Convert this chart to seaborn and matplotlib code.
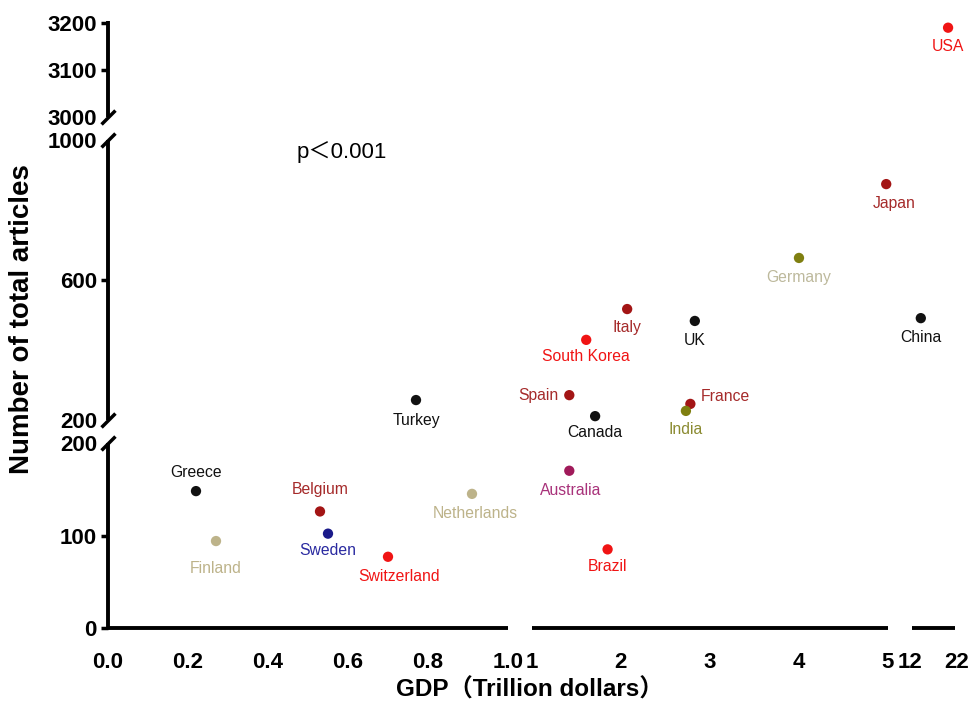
import numpy as np
import pandas as pd
import seaborn as sns
import matplotlib.pyplot as plt
from matplotlib.path import Path

sns.set_style("white")
plt.rcParams["font.family"] = ["Liberation Sans", "Noto Sans CJK SC", "DejaVu Sans"]
plt.rcParams["text.color"] = "black"
plt.rcParams["xtick.color"] = "black"
plt.rcParams["ytick.color"] = "black"
plt.rcParams["xtick.labelcolor"] = "black"
plt.rcParams["ytick.labelcolor"] = "black"

# ---------------------------------------------------------------------------
# data
# ---------------------------------------------------------------------------
countries = ["USA", "Japan", "Germany", "China", "UK", "Italy", "South Korea",
             "Spain", "Canada", "France", "India", "Turkey", "Greece", "Finland",
             "Belgium", "Sweden", "Switzerland", "Netherlands", "Australia", "Brazil"]
gdp = [20.1, 4.98, 4.0, 14.3, 2.83, 2.07, 1.61,
       1.42, 1.71, 2.78, 2.73, 0.77, 0.22, 0.27,
       0.53, 0.55, 0.70, 0.91, 1.42, 1.85]
articles = [3190, 874, 663, 491, 483, 517, 429,
            271, 211, 246, 226, 257, 148, 94,
            126, 102, 77, 145, 170, 85]

x_ticks = [0.0, 0.2, 0.4, 0.6, 0.8, 1.0, 1.001, 2, 3, 4, 5, 12, 22]
x_labels = ["0.0", "0.2", "0.4", "0.6", "0.8", "1.0", "1", "2", "3", "4", "5", "12", "22"]
y_major = [0, 100, 600, 3100, 3200]
y_minor = [200, 200.001, 1000, 3000]

# ---------------------------------------------------------------------------
# styles
# ---------------------------------------------------------------------------
BLACK, RED, DARKRED = "#111111", "#f01414", "#a31515"
OLIVE, TAN, NAVY, PURPLE = "#7f7f10", "#bdb38a", "#1a1a8a", "#a01a5a"
dot_color = {
    "USA": RED, "Japan": DARKRED, "Germany": OLIVE, "China": BLACK, "UK": BLACK,
    "Italy": DARKRED, "South Korea": RED, "Spain": DARKRED, "Canada": BLACK,
    "France": DARKRED, "India": OLIVE, "Turkey": BLACK, "Greece": BLACK,
    "Finland": TAN, "Belgium": DARKRED, "Sweden": NAVY, "Switzerland": RED,
    "Netherlands": TAN, "Australia": PURPLE, "Brazil": RED,
}
label_color = dict(dot_color)
label_color.update({"Germany": "#bdb99c", "India": "#8a8a30", "Australia": "#a8327a",
                    "Japan": "#a52a2a", "Italy": "#a52a2a", "Spain": "#a52a2a",
                    "France": "#a52a2a", "Belgium": "#a52a2a", "Sweden": "#2a2aa0"})
# label offset in pixels (dx, dy downward) and alignment
label_pos = {
    "USA": (0, 19, "center"), "Japan": (8, 19, "center"), "Germany": (0, 20, "center"),
    "China": (0, 19, "center"), "UK": (0, 20, "center"), "Italy": (0, 18, "center"),
    "South Korea": (0, 17, "center"), "Spain": (-11, 0, "right"),
    "Canada": (0, 16, "center"), "France": (10, -7, "left"), "India": (0, 19, "center"),
    "Turkey": (0, 20, "center"), "Greece": (0, -19, "center"), "Finland": (0, 27, "center"),
    "Belgium": (0, -22, "center"), "Sweden": (0, 17, "center"),
    "Switzerland": (11, 20, "center"), "Netherlands": (3, 20, "center"),
    "Australia": (1, 20, "center"), "Brazil": (0, 17, "center"),
}

# piecewise-linear broken axes (data value -> figure pixel)
XP = [-10, 0, 1, 1.001, 5, 12, 22, 122]
XV = [108 - 4000, 108, 508, 532, 888, 910, 957, 957 + 470]
YP = [-1000, 0, 200, 200.001, 1000, 3000, 3200, 4200]
YV = [84 - 925, 84, 269, 292, 572, 595, 689, 689 + 470]


def fx(v):
    return np.interp(v, XP, XV)


def ix(v):
    return np.interp(v, XV, XP)


def fy(v):
    return np.interp(v, YP, YV)


def iy(v):
    return np.interp(v, YV, YP)


W, H = 968, 712
fig = plt.figure(figsize=(W / 100, H / 100), dpi=100)
ax = fig.add_axes([108 / W, 84 / H, (965 - 108) / W, (702 - 84) / H])
ax.set_xscale("function", functions=(fx, ix))
ax.set_yscale("function", functions=(fy, iy))
ax.set_xlim(0, ix(965))
ax.set_ylim(0, iy(702))

df = pd.DataFrame({"country": countries, "gdp": gdp, "articles": articles})
sns.scatterplot(data=df, x="gdp", y="articles", hue="country", palette=dot_color,
                s=55, edgecolor="none", legend=False, zorder=3, clip_on=False, ax=ax)
ax.set_xlabel("")
ax.set_ylabel("")

for c, xv, yv in zip(countries, gdp, articles):
    dx, dy, ha = label_pos[c]
    ax.annotate(c, (xv, yv), xytext=(dx, -dy), textcoords="offset pixels",
                ha=ha, va="center", fontsize=11.3, color=label_color[c])

# broken axis lines
for spine in ax.spines.values():
    spine.set_visible(False)
line_kw = dict(color="black", lw=2.8, solid_capstyle="butt", clip_on=False, zorder=2)
for x0, x1 in [(0, 1.0), (1.001, 5.0), (12.4, 21.6)]:
    ax.plot([x0, x1], [0, 0], **line_kw)
for y0, y1 in [(0, 200), (200.001, 1000), (3000, 3205)]:
    ax.plot([0, 0], [y0, y1], **line_kw)
slash = Path([(-1, -1), (1, 1)], [Path.MOVETO, Path.LINETO])
ax.plot([0, 0, 0, 0], y_minor, ls="none", marker=slash, ms=10, mew=2.5,
        color="black", clip_on=False, zorder=2)

# ticks
ax.set_xticks(x_ticks)
ax.set_xticklabels(x_labels)
ax.xaxis.set_minor_locator(plt.NullLocator())
ax.tick_params(axis="x", which="both", length=0, pad=17, labelsize=16)
ax.set_yticks(y_major)
ax.set_yticks(y_minor, minor=True)
ax.set_yticklabels([str(v) for v in y_major])
ax.set_yticklabels(["200", "200", "1000", "3000"], minor=True)
ax.tick_params(axis="y", which="major", length=5, width=2.5, pad=3, labelsize=16,
               left=True)
ax.tick_params(axis="y", which="minor", length=0, pad=8, labelsize=16, left=True)
for lab in ax.get_xticklabels() + ax.get_yticklabels(which="both"):
    lab.set_fontweight("bold")

fig.text(530 / W, 1 - 690 / H, "GDP（Trillion dollars）", ha="center", va="center",
         fontsize=17.5, fontweight="bold")
fig.text(22 / W, 1 - 319 / H, "Number of total articles", ha="center", va="center",
         rotation=90, fontsize=20, fontweight="bold")
fig.text(297 / W, 1 - 152 / H, "p＜0.001", ha="left", va="center", fontsize=16)

fig.savefig("out.png", dpi=100)
